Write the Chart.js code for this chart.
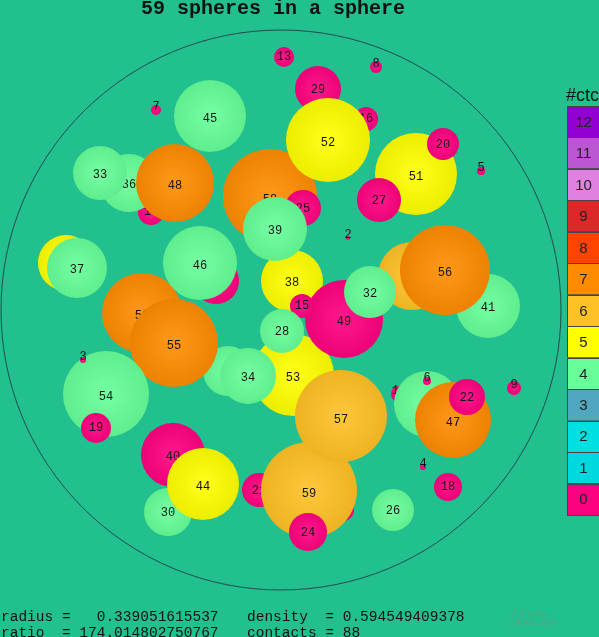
<!DOCTYPE html>
<html>
<head>
<meta charset="utf-8">
<title>59 spheres in a sphere</title>
<script src="https://cdn.jsdelivr.net/npm/chart.js@4.4.0/dist/chart.umd.min.js"></script>
<style>
html, body { margin: 0; padding: 0; background: #21c08e; overflow: hidden; }
</style>
</head>
<body>
<canvas id="spheres" width="599" height="637"></canvas>
<script>
// spheres listed back to front (drawing order), units: container radius = 280
const sphereNo  = [1, 2, 4, 5, 7, 8, 9, 13, 14, 16, 29, 23, 35, 37, 50, 11, 42, 6, 17, 21, 31, 36, 33, 48, 45, 58, 25, 52, 38, 39, 53, 49, 15, 28, 34, 43, 41, 56, 32, 51, 20, 27, 47, 22, 46, 55, 54, 3, 19, 40, 30, 44, 18, 26, 59, 57, 24];
const sphereX   = [90, 67, 142, 200, -125, 95, 233, 3, -130, 85, 37, -65, -215, -204, -139, 118, 146, 146, 62, -22, -53, -152, -181, -106, -71, -11, 22, 47, 11, -6, 12, 63, 21, 1, -33, 131, 207, 164, 89, 135, 162, 98, 172, 186, -81, -107, -175, -198, -185, -108, -113, -78, 167, 112, 28, 60, 27];
const sphereY   = [-137, 72, -157, 139, 200, 243, -78, 253, 98, 191, 221, 29, 47, 42, -3, -84, -94, -71, -200, -180, -61, 127, 137, 127, 194, 114, 102, 170, 29, 81, -65, -9, 4, -21, -66, 34, 4, 40, 18, 136, 166, 110, -110, -87, 47, -33, -84, -50, -118, -145, -202, -174, -177, -200, -180, -106, -222];
const sphereR   = [1.5, 2, 3, 4, 5, 6, 7, 10, 13, 12, 23, 23, 28, 30, 40, 8, 33, 4, 11, 17, 25, 29, 27, 39, 36, 47, 18, 42, 31, 32, 41, 39, 12, 22, 28, 34, 32, 45, 26, 41, 16, 22, 38, 18, 37, 44, 43, 3, 15, 32, 24, 36, 14, 21, 48, 46, 19];
const sphereCtc = [0, 0, 0, 0, 0, 0, 0, 0, 0, 0, 0, 0, 5, 4, 7, 0, 4, 0, 0, 0, 4, 4, 4, 7, 4, 7, 0, 5, 5, 4, 5, 0, 0, 4, 4, 6, 4, 7, 4, 5, 0, 0, 7, 0, 4, 7, 4, 0, 0, 0, 4, 5, 0, 4, 6, 6, 0];
const containerR = 280;

// colour bar, top to bottom
const ctcKeys   = [12, 11, 10, 9, 8, 7, 6, 5, 4, 3, 2, 1, 0];
const ctcColors = ['#9400d3', '#ba55d3', '#e080e0', '#dc2828', '#ff4500', '#ff8c00', '#ffc125', '#ffff00', '#66ff99', '#4fa8c0', '#00e0e0', '#00d8e0', '#ff0080'];

const titleText = '59 spheres in a sphere';
const infoLeft  = ['radius =   0.339051615537', 'ratio  = 174.014802750767'];
const infoRight = ['density  = 0.594549409378', 'contacts = 88'];

function colorFor(ctc) {
    return ctcColors[ctcKeys.indexOf(ctc)];
}

function shade(hex, f) {
    const n = parseInt(hex.slice(1), 16);
    const m = v => Math.round(f > 0 ? v + (255 - v) * f : v * (1 + f));
    return 'rgb(' + m(n >> 16) + ',' + m((n >> 8) & 255) + ',' + m(n & 255) + ')';
}

function pxRadius(chart, size) {
    if (!chart.chartArea) return 0;
    const xs = chart.scales.x;
    const r = xs.getPixelForValue(size) - xs.getPixelForValue(0);
    return isFinite(r) ? r : 0;
}

// scatter points whose radius comes from the x scale, so sizes are in data units
const datasets = sphereNo.map((no, i) => ({
    label: String(no),
    sphereNo: no,
    order: -i,
    clip: false,
    showLine: false,
    data: [{ x: sphereX[i], y: sphereY[i], size: sphereR[i] }],
    pointBorderWidth: 0,
    pointRadius: ctx => ctx.raw ? pxRadius(ctx.chart, ctx.raw.size) : 0,
    pointBackgroundColor: ctx => {
        const base = colorFor(sphereCtc[i]);
        const chart = ctx.chart;
        if (!chart.chartArea || !ctx.raw) return base;
        const cx = chart.scales.x.getPixelForValue(ctx.raw.x);
        const cy = chart.scales.y.getPixelForValue(ctx.raw.y);
        const r = pxRadius(chart, ctx.raw.size);
        if (!isFinite(cx) || !isFinite(cy) || r <= 0) return base;
        const g = chart.ctx.createRadialGradient(cx, cy, 0, cx, cy, r);
        g.addColorStop(0, shade(base, 0.1));
        g.addColorStop(1, shade(base, -0.07));
        return g;
    }
}));

const backdrop = {
    id: 'backdrop',
    beforeDraw(chart) {
        const c = chart.ctx;
        c.save();
        c.fillStyle = '#21c08e';
        c.fillRect(0, 0, chart.width, chart.height);
        c.restore();
    },
    beforeDatasetsDraw(chart) {
        const xs = chart.scales.x, ys = chart.scales.y;
        const cx = xs.getPixelForValue(0), cy = ys.getPixelForValue(0);
        const c = chart.ctx;
        c.save();
        c.strokeStyle = '#1d4f45';
        c.lineWidth = 1;
        c.beginPath();
        c.arc(cx, cy, pxRadius(chart, containerR), 0, Math.PI * 2);
        c.stroke();
        c.restore();
    }
};

// number on each sphere, drawn right after its own sphere so later ones cover it
const sphereLabels = {
    id: 'sphereLabels',
    afterDatasetDraw(chart, args) {
        const ds = chart.data.datasets[args.index];
        const el = args.meta.data[0];
        if (!el) return;
        const r = el.options.radius;
        const dy = r < 9 ? -3 : (r - 12) * 0.1;
        const c = chart.ctx;
        c.save();
        c.font = '12px "Liberation Mono", monospace';
        c.fillStyle = '#141414';
        c.textAlign = 'center';
        c.textBaseline = 'middle';
        c.fillText(String(ds.sphereNo), el.x, el.y + dy);
        c.restore();
    }
};

const texts = {
    id: 'texts',
    afterDraw(chart) {
        const c = chart.ctx;
        c.save();
        c.fillStyle = '#111';
        c.font = 'bold 20px "Liberation Mono", monospace';
        c.textAlign = 'center';
        c.textBaseline = 'alphabetic';
        c.fillText(titleText, 273, 14);

        c.textAlign = 'left';
        c.font = '14.5px "Liberation Mono", monospace';
        infoLeft.forEach((t, k) => c.fillText(t, 1, 621 + k * 16));
        infoRight.forEach((t, k) => c.fillText(t, 247, 621 + k * 16));

        c.fillStyle = 'rgba(110,150,125,0.8)';
        c.font = '8.5px "Liberation Serif", serif';
        c.fillText('\u00a9 E.Specht', 512, 616);
        c.fillText('18-JUL-2024', 511, 625);

        // colour bar
        c.fillStyle = '#111';
        c.font = '18px "Liberation Sans", sans-serif';
        c.fillText('#ctc', 566, 101);
        const top = 106, h = 31.46, left = 567, w = 34;
        ctcKeys.forEach((k, j) => {
            const y = top + j * h;
            c.fillStyle = ctcColors[j];
            c.fillRect(left, y, w, h);
            c.strokeStyle = '#4a4050';
            c.lineWidth = 1;
            c.strokeRect(left + 0.5, Math.round(y) + 0.5, w, Math.round(h));
            c.fillStyle = '#222';
            c.font = '15px "Liberation Sans", sans-serif';
            c.textAlign = 'center';
            c.textBaseline = 'middle';
            c.fillText(String(k), 583.5, y + h / 2 + 1);
            c.textAlign = 'left';
            c.textBaseline = 'alphabetic';
        });
        c.restore();
    }
};

const chart = new Chart(document.getElementById('spheres'), {
    type: 'scatter',
    data: { datasets: datasets },
    options: {
        responsive: false,
        animation: false,
        events: [],
        layout: { padding: { left: 1, right: 38, top: 30, bottom: 47 } },
        scales: {
            x: { type: 'linear', min: -containerR, max: containerR, display: false },
            y: { type: 'linear', min: -containerR, max: containerR, display: false }
        },
        plugins: {
            legend: { display: false },
            tooltip: { enabled: false }
        }
    },
    plugins: [backdrop, sphereLabels, texts]
});
</script>
</body>
</html>
